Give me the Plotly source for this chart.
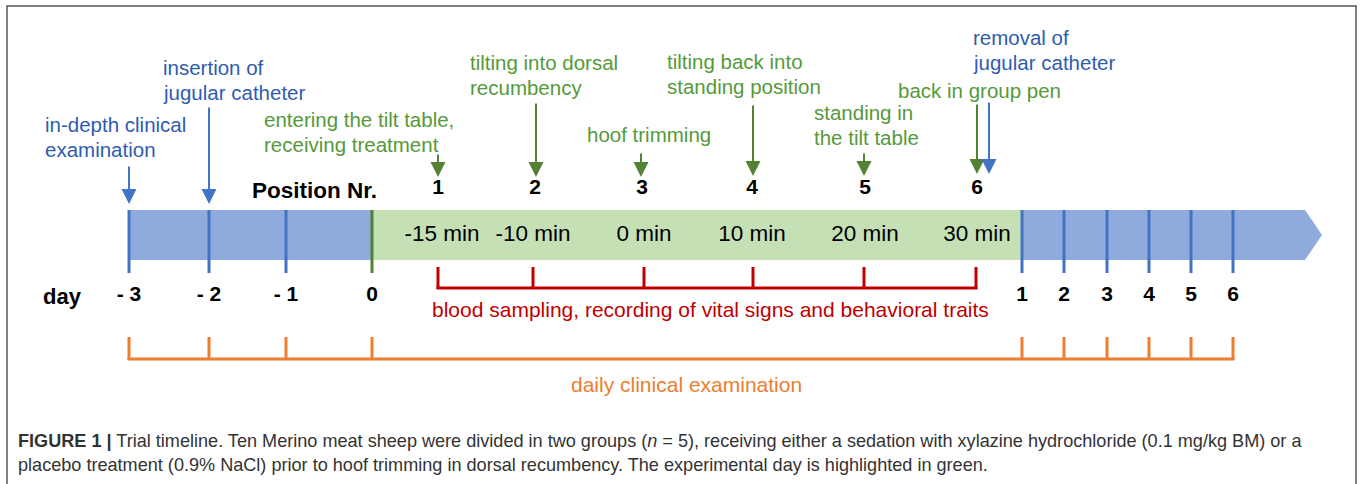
import plotly.graph_objects as go

W, H = 1360, 484

# ---- data ----
day_labels = ["- 3", "- 2", "- 1", "0", "1", "2", "3", "4", "5", "6"]
day_x = [129, 209, 286, 372, 1022, 1064, 1107, 1149, 1191, 1233]
day_color = ["#4472C4", "#4472C4", "#4472C4", "#548235",
             "#4472C4", "#4472C4", "#4472C4", "#4472C4", "#4472C4", "#4472C4"]

pos_labels = ["1", "2", "3", "4", "5", "6"]
pos_x = [438, 535, 642, 752, 865, 977]

min_labels = ["-15 min", "-10 min", "0 min", "10 min", "20 min", "30 min"]
min_x = [442, 533, 644, 752, 865, 977]

sample_x = [438, 533, 644, 753, 864, 976]

# events: text lines, left x of text, y of first line, text colour, arrow colour, arrow x, arrow top, arrow tip
events = [
    (["in-depth clinical", "examination"], 45, 124, "#2F5CB0", "#4472C4", 129, 165, 204),
    (["insertion of", "jugular catheter"], 163, 67, "#2F5CB0", "#4472C4", 209, 106, 204),
    (["entering the tilt table,", "receiving treatment"], 264, 119, "#559A3A", "#548235", 438, 153, 177),
    (["tilting into dorsal", "recumbency"], 470, 62, "#559A3A", "#548235", 536, 102, 177),
    (["hoof trimming"], 587, 134, "#559A3A", "#548235", 641, 152, 177),
    (["tilting back into", "standing position"], 667, 61, "#559A3A", "#548235", 753, 104, 176),
    (["standing in", "the tilt table"], 814, 112, "#559A3A", "#548235", 864, 152, 176),
    (["back in group pen"], 898, 90, "#559A3A", "#548235", 977, 103, 174),
    (["removal of", "jugular catheter"], 973, 37, "#2F5CB0", "#4472C4", 989, 101, 174),
]

caption_lines = [
    "<b>FIGURE 1 |</b> Trial timeline. Ten Merino meat sheep were divided in two groups (<i>n</i> = 5), "
    "receiving either a sedation with xylazine hydrochloride (0.1 mg/kg BM) or a",
    "placebo treatment (0.9% NaCl) prior to hoof trimming in dorsal recumbency. "
    "The experimental day is highlighted in green.",
]

FONT = "Liberation Sans, Arial, sans-serif"
BLUE_FILL = "#8FAADC"
GREEN_FILL = "#C5E0B4"
RED = "#C00000"
ORANGE = "#ED7D31"
PAD = 2  # annotation inner padding compensation

fig = go.Figure()
shapes = []
annotations = []

# outer frame
shapes.append(dict(type="rect", x0=7, y0=6, x1=1356, y1=495,
                   line=dict(color="#555555", width=1.5), fillcolor="rgba(0,0,0,0)", layer="below"))

# main timeline bar (arrow shaped)
bar_x0, bar_x1, tip_x = day_x[0], 1305, 1322
bar_y0, bar_y1 = 210, 260
shapes.append(dict(type="path",
                   path=f"M {bar_x0},{bar_y0} L {bar_x1},{bar_y0} L {tip_x},{(bar_y0 + bar_y1) / 2} "
                        f"L {bar_x1},{bar_y1} L {bar_x0},{bar_y1} Z",
                   fillcolor=BLUE_FILL, line=dict(width=0), layer="below"))
# experimental day (green)
shapes.append(dict(type="rect", x0=day_x[3], x1=day_x[4], y0=bar_y0, y1=bar_y1,
                   fillcolor=GREEN_FILL, line=dict(width=0), layer="below"))

# day ticks
for x, c in zip(day_x, day_color):
    shapes.append(dict(type="line", x0=x, x1=x, y0=bar_y0, y1=273, line=dict(color=c, width=3)))

# red sampling bracket
for x in sample_x:
    shapes.append(dict(type="line", x0=x, x1=x, y0=267, y1=289, line=dict(color=RED, width=3)))
shapes.append(dict(type="line", x0=sample_x[0] - 1.5, x1=sample_x[-1] + 1.5, y0=288, y1=288,
                   line=dict(color=RED, width=3)))

# orange daily exam bracket
for x in day_x:
    shapes.append(dict(type="line", x0=x, x1=x, y0=337, y1=360, line=dict(color=ORANGE, width=3)))
shapes.append(dict(type="line", x0=day_x[0] - 1.5, x1=day_x[-1] + 1.5, y0=359, y1=359,
                   line=dict(color=ORANGE, width=3)))

# day labels
fig.add_trace(go.Scatter(x=day_x, y=[296] * len(day_x), text=day_labels, mode="text",
                         textfont=dict(family=FONT, size=21, color="black", weight="bold"),
                         hoverinfo="skip", showlegend=False))
annotations.append(dict(x=43 - PAD, y=296, text="<b>day</b>", showarrow=False, xanchor="left",
                        yanchor="middle", font=dict(family=FONT, size=22, color="black")))

# position numbers
fig.add_trace(go.Scatter(x=pos_x, y=[189] * len(pos_x), text=pos_labels, mode="text",
                         textfont=dict(family=FONT, size=21, color="black", weight="bold"),
                         hoverinfo="skip", showlegend=False))
annotations.append(dict(x=377 + PAD, y=190, text="<b>Position Nr.</b>", showarrow=False, xanchor="right",
                        yanchor="middle", font=dict(family=FONT, size=22.5, color="black")))

# minute labels
fig.add_trace(go.Scatter(x=min_x, y=[235] * len(min_x), text=min_labels, mode="text",
                         textfont=dict(family=FONT, size=22.5, color="black"),
                         hoverinfo="skip", showlegend=False))

# bracket labels
annotations.append(dict(x=710, y=309, text="blood sampling, recording of vital signs and behavioral traits",
                        showarrow=False, xanchor="center", yanchor="middle",
                        font=dict(family=FONT, size=21, color=RED)))
annotations.append(dict(x=686, y=384, text="daily clinical examination",
                        showarrow=False, xanchor="center", yanchor="middle",
                        font=dict(family=FONT, size=21, color=ORANGE)))

# events with arrows
for lines, tx, ty, tcol, acol, axp, ay0, ay1 in events:
    for i, line in enumerate(lines):
        annotations.append(dict(x=tx - PAD, y=ty + 25 * i, text=line, showarrow=False,
                                xanchor="left", yanchor="middle",
                                font=dict(family=FONT, size=20.5, color=tcol)))
    annotations.append(dict(x=axp, y=ay1, ax=axp, ay=ay0, axref="x", ayref="y", xref="x", yref="y",
                            text="", showarrow=True, arrowhead=2, arrowsize=1.5, arrowwidth=2,
                            arrowcolor=acol, standoff=0, startstandoff=0))

# caption
for i, line in enumerate(caption_lines):
    annotations.append(dict(x=16, y=441 + 24 * i, text=line, showarrow=False,
                            xanchor="left", yanchor="middle",
                            font=dict(family=FONT, size=18.1, color="#333333")))

fig.update_layout(
    width=W, height=H,
    margin=dict(l=0, r=0, t=0, b=0),
    paper_bgcolor="white", plot_bgcolor="white",
    xaxis=dict(range=[0, W], visible=False, fixedrange=True),
    yaxis=dict(range=[H, 0], visible=False, fixedrange=True),
    shapes=shapes, annotations=annotations,
    showlegend=False,
)

fig.write_html("out.html", config={"displayModeBar": False})

# remove default page margin so the figure sits at the window origin
with open("out.html", "r", encoding="utf-8") as f:
    html = f.read()
html = html.replace("<head>", "<head><style>html,body{margin:0;padding:0;overflow:hidden;}</style>", 1)
with open("out.html", "w", encoding="utf-8") as f:
    f.write(html)
